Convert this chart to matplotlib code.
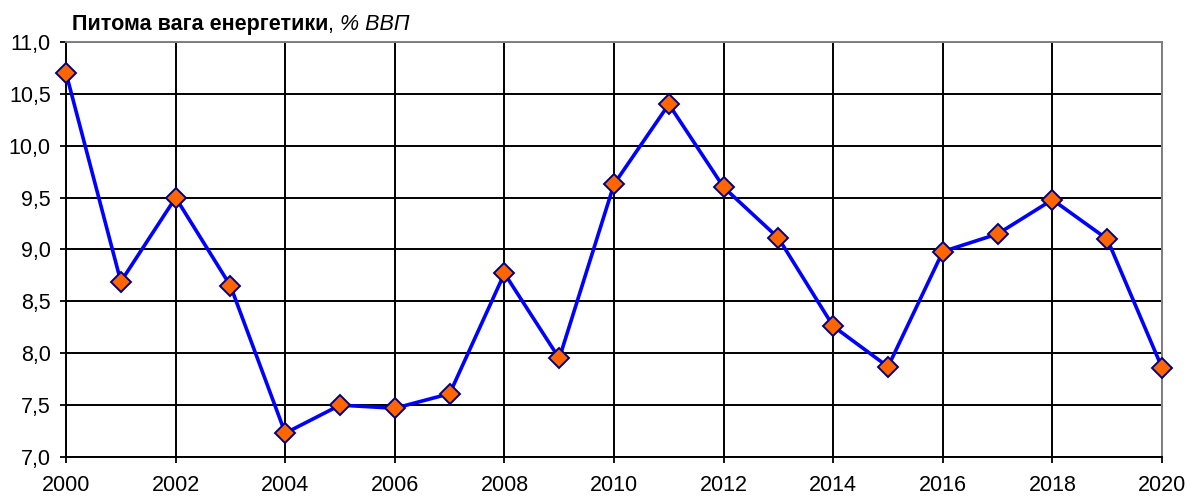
import matplotlib

matplotlib.use("Agg")
import matplotlib.pyplot as plt  # noqa: E402
from matplotlib.ticker import FuncFormatter, MultipleLocator  # noqa: E402

plt.rcParams["font.family"] = ["Liberation Sans", "DejaVu Sans"]

years = list(range(2000, 2021))
share = [10.70, 8.69, 9.50, 8.65, 7.23, 7.50, 7.47, 7.61, 8.77, 7.95,
         9.63, 10.40, 9.60, 9.11, 8.26, 7.87, 8.98, 9.15, 9.48, 9.10, 7.86]

title_bold = "Питома вага енергетики"
title_unit = "% ВВП"

fig = plt.figure(figsize=(11.9, 4.97), dpi=100)
ax = fig.add_axes([0.0555, 0.0805, 0.921, 0.835])

ax.plot(years, share, color="#0000FF", lw=2.6, marker="D", ms=10,
        mfc="#FF6600", mec="#000080", mew=1.4, zorder=3, clip_on=False)

ax.set_xlim(2000, 2020)
ax.set_ylim(7.0, 11.0)
ax.xaxis.set_major_locator(MultipleLocator(2))
ax.yaxis.set_major_locator(MultipleLocator(0.5))
ax.yaxis.set_major_formatter(
    FuncFormatter(lambda v, _: f"{v:.1f}".replace(".", ",")))
ax.grid(True, color="black", lw=1.4)
ax.set_axisbelow(True)

for side in ("top", "right"):
    ax.spines[side].set_color("#808080")
    ax.spines[side].set_linewidth(1.4)
for side in ("left", "bottom"):
    ax.spines[side].set_color("black")
    ax.spines[side].set_linewidth(1.4)
ax.tick_params(axis="both", direction="out", length=4, width=1.3,
               labelsize=15.5, colors="black")
ax.tick_params(axis="x", pad=9)
ax.tick_params(axis="y", pad=7)

t1 = fig.text(72 / 1190, 1 - 30 / 497, title_bold, fontsize=15.5,
              fontweight="bold", ha="left", va="baseline")
t2 = ax.annotate(", ", xy=(1, 0), xycoords=t1, fontsize=15.5,
                 ha="left", va="bottom")
ax.annotate(title_unit, xy=(1, 0), xycoords=t2, fontsize=15.5,
            style="italic", ha="left", va="bottom")

fig.savefig("out.png", dpi=100, facecolor="white")
